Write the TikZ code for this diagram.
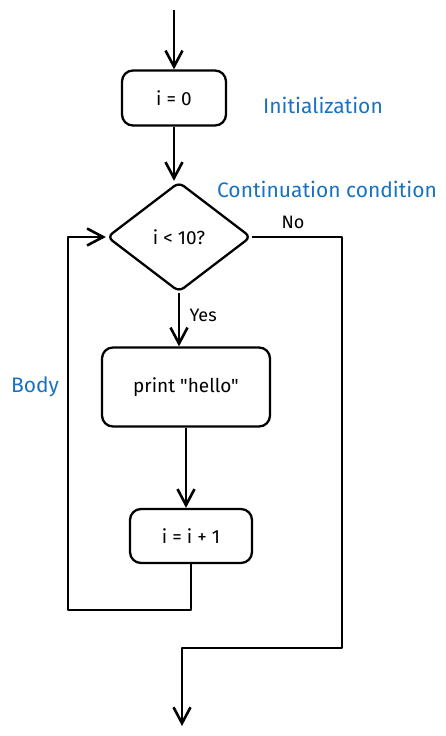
\documentclass[tikz,border=0pt]{standalone}
\usepackage{fontspec}
\setmainfont{Fira Sans}[Ligatures=TeXOff]
\usetikzlibrary{shapes.geometric,arrows.meta}
\definecolor{blu}{HTML}{1971C2}
\begin{document}
\begin{tikzpicture}[x=1pt,y=-1pt,
    >={Straight Barb[length=16pt,width=17pt]},
    linea/.style={line width=2.6pt, line join=round},
    blocco/.style={draw, line width=2.3pt, rounded corners=11pt, align=center,
        font=\fontsize{19}{22}\selectfont},
    rombo/.style={draw, diamond, line width=2.3pt, rounded corners=6pt,
        minimum width=144pt, minimum height=110pt, font=\fontsize{19}{22}\selectfont},
    nota/.style={text=blu, font=\fontsize{21}{24}\selectfont},
    etichetta/.style={font=\fontsize{18}{21}\selectfont}]
    % --- Cornice ---
    \useasboundingbox (0,0) rectangle (446,736);

    % --- Blocchi ---
    \node[blocco, minimum width=104pt, minimum height=55pt] (init) at (174,98) {i = 0};
    \node[rombo] (cond) at (179,237) {i < 10?};
    \node[blocco, minimum width=168pt, minimum height=79pt] (print) at (186,387) {print "hello"};
    \node[blocco, minimum width=122pt, minimum height=54pt] (incr) at (191,536) {i = i + 1};

    % --- Note in blu ---
    \node[nota] (notaInit) at (323,105) {Initialization};
    \node[nota] (notaCond) at (327,189) {Continuation condition};
    \node[nota] (notaBody) at (35,387) {Body};

    % --- Punti liberi ---
    \coordinate (start) at (174,10);
    \coordinate (loopL) at (68,610);
    \coordinate (exitR) at (342,648);
    \coordinate (stop) at (182,726);

    % --- Frecce ---
    \draw[linea,->] (start) -- (init.north);
    \draw[linea,->] (init.south) -- (init.south |- cond.north);
    \draw[linea,->] (cond.south) -- (cond.south |- print.north)
        node[etichetta, pos=0.42, right=6pt] (yes) {Yes};
    \draw[linea,->] (print.south) -- (print.south |- incr.north);
    % ritorno al test
    \draw[linea,->] (incr.south) |- (loopL) -- (loopL |- cond.west) -- (cond.west);
    % uscita dal ciclo
    \draw[linea,->] (cond.east) -| (exitR) -| (stop);
    \node[etichetta] (no) at (293,222) {No};
\end{tikzpicture}
\end{document}
